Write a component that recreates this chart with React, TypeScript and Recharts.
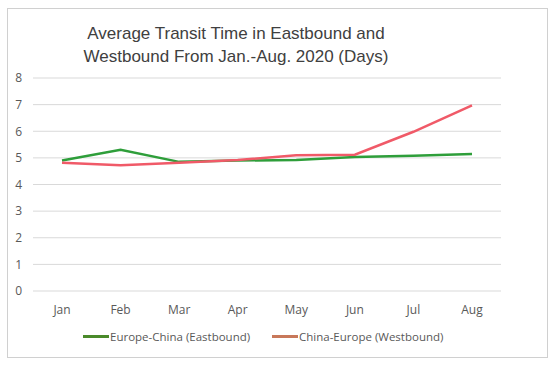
import { LineChart, Line, XAxis, YAxis, CartesianGrid } from 'recharts';

const months = ['Jan', 'Feb', 'Mar', 'Apr', 'May', 'Jun', 'Jul', 'Aug'];
const eastbound = [4.9, 5.3, 4.85, 4.9, 4.92, 5.03, 5.08, 5.15];
const westbound = [4.82, 4.72, 4.82, 4.92, 5.1, 5.12, 5.98, 6.97];
const yTicks = [0, 1, 2, 3, 4, 5, 6, 7, 8];

const GREEN = '#2e9e3a';
const RED = '#f05a68';

const data = months.map((m, i) => ({
  month: m,
  east: eastbound[i],
  west: westbound[i],
}));

const legendItems = [
  { label: 'Europe-China (Eastbound)', color: '#4a8a2a', left: 75 },
  { label: 'China-Europe (Westbound)', color: '#c8785a', left: 264 },
];

export default function App() {
  return (
    <div
      style={{
        position: 'absolute',
        left: 7,
        top: 8,
        width: 541,
        height: 350,
        boxSizing: 'border-box',
        border: '1px solid #d0d0d0',
        background: '#fff',
      }}
    >
      <div
        style={{
          position: 'absolute',
          left: 0,
          top: 13,
          width: 456,
          textAlign: 'center',
          fontFamily: '"Liberation Sans", Arial, sans-serif',
          fontSize: 17,
          lineHeight: '23px',
          color: '#404040',
        }}
      >
        Average Transit Time in Eastbound and
        <br />
        Westbound From Jan.-Aug. 2020 (Days)
      </div>
      <LineChart width={539} height={348} data={data} margin={{ top: 69, right: 46, bottom: 36, left: 0 }}>
        <CartesianGrid vertical={false} stroke="#d9d9d9" />
        <XAxis
          dataKey="month"
          axisLine={false}
          tickLine={false}
          tickMargin={8}
          height={30}
          padding={{ left: 29, right: 29 }}
          tick={{ fill: '#595959', fontSize: 12, fontFamily: '"Open Sans", sans-serif' }}
        />
        <YAxis
          domain={[0, 8]}
          ticks={yTicks}
          axisLine={false}
          tickLine={false}
          width={25}
          tickMargin={5}
          tick={{ fill: '#595959', fontSize: 12, fontFamily: '"Open Sans", sans-serif' }}
        />
        <Line dataKey="east" stroke={GREEN} strokeWidth={2.5} dot={false} isAnimationActive={false} />
        <Line dataKey="west" stroke={RED} strokeWidth={2.5} dot={false} isAnimationActive={false} />
      </LineChart>
      {legendItems.map((item) => (
        <div
          key={item.label}
          style={{
            position: 'absolute',
            left: item.left,
            top: 320,
            display: 'flex',
            alignItems: 'center',
            fontFamily: '"Open Sans", sans-serif',
            fontSize: 11.5,
            color: '#595959',
            whiteSpace: 'nowrap',
          }}
        >
          <span style={{ display: 'inline-block', width: 26, height: 3, background: item.color, marginRight: 1 }} />
          <span>{item.label}</span>
        </div>
      ))}
    </div>
  );
}
